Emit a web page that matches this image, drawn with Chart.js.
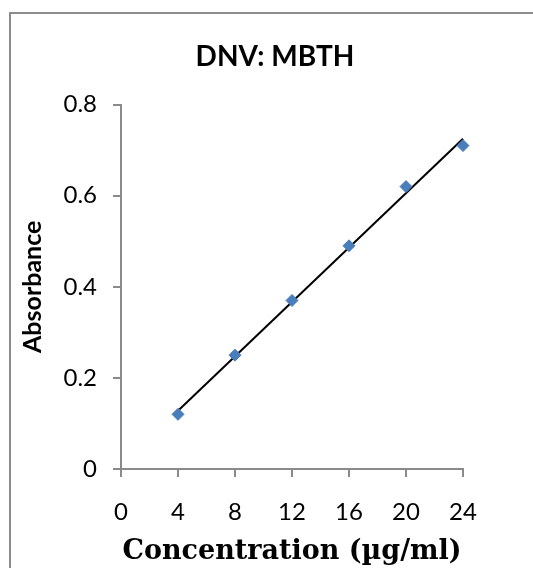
<!DOCTYPE html>
<html>
<head>
<meta charset="utf-8">
<script src="https://cdn.jsdelivr.net/npm/chart.js@4"></script>
<style>
  html, body { margin: 0; background: #fff; overflow: hidden; }
  #wrap { position: fixed; left: 0; top: 0; width: 533px; height: 568px; }
</style>
</head>
<body>
<div id="wrap"><canvas id="chart"></canvas></div>
<script>
const concentration = [4, 8, 12, 16, 20, 24];
const absorbance = [0.12, 0.25, 0.37, 0.49, 0.62, 0.71];
const xTicks = [0, 4, 8, 12, 16, 20, 24];
const yTicks = [0, 0.2, 0.4, 0.6, 0.8];

// least squares trendline through the points
function fitLine(xs, ys) {
  const n = xs.length;
  const mx = xs.reduce((a, b) => a + b, 0) / n;
  const my = ys.reduce((a, b) => a + b, 0) / n;
  let sxy = 0, sxx = 0;
  xs.forEach((x, i) => { sxy += (x - mx) * (ys[i] - my); sxx += (x - mx) * (x - mx); });
  const slope = sxy / sxx;
  return x => my + slope * (x - mx);
}
const fit = fitLine(concentration, absorbance);
const xFirst = concentration[0];
const xLast = concentration[concentration.length - 1];

const axisGray = '#8a8a8a';
const uiFont = 'Lato';

// outer frame of the chart: only its left and top edges fall inside the picture
const chartFrame = {
  id: 'chartFrame',
  beforeDraw(chart) {
    const ctx = chart.ctx;
    ctx.save();
    ctx.strokeStyle = '#8c8c8c';
    ctx.lineWidth = 2;
    ctx.beginPath();
    ctx.moveTo(10, chart.height + 5);
    ctx.lineTo(10, 13);
    ctx.lineTo(chart.width + 5, 13);
    ctx.stroke();
    ctx.restore();
  }
};

new Chart(document.getElementById('chart'), {
  type: 'scatter',
  plugins: [chartFrame],
  data: {
    datasets: [
      {
        type: 'line',
        label: 'Trend',
        data: [{ x: xFirst, y: fit(xFirst) }, { x: xLast, y: fit(xLast) }],
        borderColor: '#000',
        borderWidth: 2,
        pointRadius: 0,
        fill: false,
        clip: false,
        order: 2
      },
      {
        label: 'Absorbance',
        data: concentration.map((x, i) => ({ x, y: absorbance[i] })),
        pointStyle: 'rectRot',
        pointRadius: 6,
        backgroundColor: '#4a7ebb',
        borderColor: '#4a7ebb',
        borderWidth: 1,
        clip: false,
        order: 1
      }
    ]
  },
  options: {
    responsive: true,
    maintainAspectRatio: false,
    animation: false,
    layout: { padding: { left: 17, right: 0, top: 0, bottom: 0 } },
    plugins: {
      legend: { display: false },
      tooltip: { enabled: false },
      title: {
        display: true,
        text: 'DNV: MBTH',
        color: '#000',
        font: { family: uiFont, size: 28, weight: 'bold' },
        padding: { top: 40, bottom: 31 }
      }
    },
    scales: {
      x: {
        type: 'linear',
        min: 0,
        max: 24,
        afterBuildTicks: s => { s.ticks = xTicks.map(v => ({ value: v })); },
        afterFit: s => { s.height = 99; },
        grid: { drawOnChartArea: false, drawTicks: true, tickLength: 8, color: axisGray, lineWidth: 2 },
        border: { color: axisGray, width: 2 },
        ticks: { color: '#000', padding: 21, font: { family: uiFont, size: 24 } },
        title: {
          display: true,
          text: 'Concentration (µg/ml)',
          color: '#000',
          font: { family: 'DejaVu Serif', size: 27, weight: 'bold' },
          padding: { top: 0, bottom: 0 }
        }
      },
      y: {
        type: 'linear',
        min: 0,
        max: 0.8,
        afterBuildTicks: s => { s.ticks = yTicks.map(v => ({ value: v })); },
        afterFit: s => { s.width = 104; },
        grid: { drawOnChartArea: false, drawTicks: true, tickLength: 8, color: axisGray, lineWidth: 2 },
        border: { color: axisGray, width: 2 },
        ticks: { color: '#000', padding: 16, font: { family: uiFont, size: 24 } },
        title: {
          display: true,
          text: 'Absorbance',
          color: '#000',
          font: { family: uiFont, size: 25, weight: 'bold' },
          padding: { top: 1, bottom: 0 }
        }
      },
      // empty right-hand scale, only reserves the margin on the right
      spare: {
        type: 'linear',
        position: 'right',
        display: true,
        afterFit: s => { s.width = 70; },
        grid: { display: false },
        border: { display: false },
        ticks: { display: false }
      }
    }
  }
});
</script>
</body>
</html>
